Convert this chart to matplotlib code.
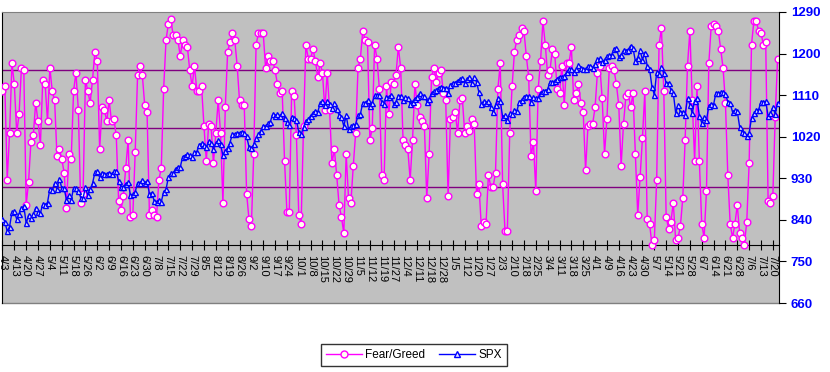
import pandas as pd
import matplotlib.pyplot as plt
from matplotlib.lines import Line2D

plt.rcParams['font.family'] = ['Liberation Sans', 'DejaVu Sans']

# trading days 4/3/2009 - 7/22/2010
holidays = ['2009-04-10', '2009-05-25', '2009-07-03', '2009-09-07', '2009-11-26',
            '2009-12-25', '2010-01-01', '2010-01-18', '2010-02-15', '2010-04-02',
            '2010-05-31', '2010-07-05']
dates = pd.bdate_range('2009-04-03', '2010-07-22', freq='C', holidays=holidays)

fear_greed = [
    66, 68, 28, 48, 78, 69, 48, 56, 76, 75,
    17, 27, 44, 47, 61, 53, 43, 71, 69, 53,
    76, 66, 62, 38, 41, 37, 31, 16, 39, 37,
    66, 74, 58, 18, 22, 71, 66, 61, 71, 83,
    79, 41, 59, 58, 53, 62, 53, 54, 47, 19,
    15, 21, 33, 45, 12, 13, 40, 73, 77, 73,
    60, 57, 13, 15, 13, 12, 28, 33, 67, 88,
    95, 97, 90, 90, 88, 81, 88, 86, 85, 75,
    68, 77, 66, 66, 68, 51, 36, 52, 51, 35,
    48, 62, 48, 18, 59, 83, 87, 91, 88, 77,
    62, 60, 60, 22, 11, 8, 39, 86, 91, 91,
    91, 76, 81, 79, 79, 75, 69, 65, 66, 36,
    14, 14, 66, 64, 47, 13, 9, 51, 86, 80,
    80, 84, 79, 72, 78, 74, 58, 74, 58, 35,
    41, 30, 17, 12, 5, 39, 20, 18, 34, 48,
    76, 80, 92, 88, 87, 45, 50, 86, 80, 67,
    30, 28, 68, 56, 70, 69, 73, 85, 76, 45,
    43, 41, 28, 45, 69, 60, 55, 53, 51, 20,
    39, 72, 76, 70, 74, 75, 65, 62, 21, 54,
    55, 57, 48, 62, 63, 48, 51, 49, 54, 52,
    22, 26, 8, 10, 9, 30, 25, 25, 31, 67,
    78, 26, 6, 6, 48, 68, 83, 88, 90, 93,
    92, 81, 72, 38, 44, 23, 67, 79, 96, 86,
    73, 75, 84, 82, 67, 65, 77, 60, 78, 78,
    85, 62, 65, 69, 61, 57, 32, 51, 52, 52,
    59, 74, 77, 63, 39, 54, 76, 77, 75, 69,
    60, 34, 52, 64, 65, 59, 65, 39, 13, 29,
    46, 66, 11, 9, 0, 2, 28, 86, 93, 66,
    12, 7, 10, 18, 2, 3, 8, 20, 45, 77,
    92, 62, 36, 68, 36, 9, 3, 23, 78, 94,
    95, 94, 92, 84, 76, 61, 30, 9, 3, 9,
    17, 5, 3, 0, 10, 35, 86, 96, 96, 92,
    91, 86, 87, 19, 18, 21, 55, 80,
]

spx = [
    # Apr 2009
    842.5, 835.5, 815.6, 825.2, 856.6, 858.7, 841.5, 852.1, 865.3, 869.6,
    832.4, 850.1, 843.6, 851.9, 866.2, 857.5, 855.2, 873.6, 872.8,
    # May
    877.5, 907.2, 903.8, 919.5, 907.4, 929.2, 909.2, 908.4, 883.9, 893.1,
    882.9, 909.7, 908.1, 903.5, 888.3, 887.0, 910.3, 893.1, 906.8, 919.1,
    # Jun
    942.9, 944.7, 931.8, 942.5, 940.1, 939.1, 942.4, 939.2, 944.9, 946.2,
    923.7, 912.0, 910.7, 918.4, 921.2, 893.0, 895.1, 900.9, 920.3, 918.9,
    927.2, 919.3,
    # Jul
    923.3, 896.4, 898.7, 881.0, 879.6, 882.7, 879.1, 901.1, 905.8, 932.7,
    940.7, 940.4, 951.1, 954.6, 954.1, 976.3, 979.3, 982.2, 979.6, 975.2,
    986.8, 987.5,
    # Aug
    1002.6, 1005.7, 1002.7, 997.1, 1010.5, 1007.1, 994.4, 1005.8, 1012.7, 1004.1,
    979.7, 989.7, 996.5, 1007.4, 1026.1, 1025.6, 1028.0, 1028.1, 1031.0, 1028.9,
    1020.6,
    # Sep
    998.0, 994.8, 1003.2, 1016.4, 1025.4, 1033.4, 1044.1, 1042.7, 1049.3, 1052.6,
    1068.8, 1065.5, 1068.3, 1064.7, 1071.7, 1060.9, 1050.8, 1044.4, 1063.0, 1060.6,
    1057.1,
    # Oct
    1029.9, 1025.2, 1040.5, 1054.7, 1057.6, 1065.5, 1071.5, 1076.2, 1073.2, 1092.0,
    1096.6, 1087.7, 1097.9, 1091.1, 1081.4, 1092.9, 1079.6, 1067.0, 1063.4, 1042.6,
    1066.1, 1036.2,
    # Nov
    1042.9, 1045.4, 1046.5, 1066.6, 1069.3, 1093.1, 1093.0, 1098.5, 1087.2, 1093.5,
    1109.3, 1110.3, 1109.8, 1094.9, 1091.4, 1106.2, 1105.7, 1110.6, 1091.5, 1095.6,
    # Dec
    1108.9, 1109.2, 1099.9, 1106.0, 1103.3, 1091.9, 1095.9, 1102.4, 1106.4, 1114.1,
    1107.9, 1109.2, 1096.1, 1102.5, 1114.1, 1118.0, 1120.6, 1126.5, 1127.8, 1126.2,
    1126.4, 1115.1,
    # Jan 2010
    1133.0, 1136.5, 1137.1, 1141.7, 1145.0, 1147.0, 1136.2, 1145.7, 1148.5, 1136.0,
    1150.2, 1138.0, 1116.5, 1091.8, 1096.8, 1092.2, 1097.5, 1084.5, 1073.9,
    # Feb
    1089.2, 1103.3, 1097.3, 1063.1, 1066.2, 1056.7, 1070.5, 1068.1, 1078.5, 1075.5,
    1094.9, 1099.5, 1106.8, 1109.2, 1108.0, 1094.6, 1105.2, 1102.9, 1104.5,
    # Mar
    1115.7, 1118.3, 1118.8, 1123.0, 1138.7, 1138.5, 1140.4, 1145.6, 1150.2, 1150.0,
    1150.5, 1159.5, 1166.2, 1165.8, 1159.9, 1165.8, 1174.2, 1167.7, 1165.7, 1166.6,
    1173.2, 1173.3, 1169.4,
    # Apr
    1178.1, 1187.4, 1189.4, 1182.4, 1186.4, 1194.4, 1196.5, 1197.3, 1210.7, 1211.7,
    1192.1, 1197.5, 1207.2, 1205.9, 1208.7, 1217.3, 1212.1, 1183.7, 1191.4, 1206.8,
    1186.7,
    # May
    1202.3, 1173.6, 1165.9, 1128.2, 1110.9, 1159.7, 1155.8, 1171.7, 1157.4, 1135.7,
    1136.9, 1120.8, 1115.1, 1071.6, 1087.7, 1073.7, 1074.0, 1068.0, 1103.1, 1089.4,
    # Jun
    1070.7, 1098.4, 1102.8, 1064.9, 1050.5, 1062.0, 1055.7, 1086.8, 1091.6, 1089.6,
    1115.2, 1114.6, 1116.0, 1117.5, 1113.2, 1095.3, 1092.0, 1073.7, 1076.8, 1074.6,
    1041.2, 1030.7,
    # Jul
    1027.4, 1022.6, 1028.1, 1060.3, 1070.3, 1078.0, 1078.8, 1095.3, 1095.2, 1096.5,
    1064.9, 1071.3, 1083.5, 1069.6, 1093.7,
]

x = list(range(len(dates)))
tick_pos = x[::5]
tick_labels = [f"{d.month}/{d.day}" for d in dates[::5]]

fig = plt.figure(figsize=(8.3, 3.72), dpi=100)
ax = fig.add_axes([2 / 830, 69 / 372, 777 / 830, 291 / 372])
ax.set_facecolor('#C0C0C0')
ax.set_xlim(-0.2, len(x) - 0.4)
ax.set_ylim(-25, 100)

for v in (25, 50, 75):
    ax.axhline(v, color='#800080', lw=1, zorder=1)

ax.plot(x, fear_greed, color='#FF00FF', lw=1, marker='o', ms=4.8,
        mfc='#FFFFEE', mec='#FF00FF', mew=1, zorder=3)

ax.spines['bottom'].set_position(('data', 0))
ax.spines['bottom'].set_color('black')
ax.spines['left'].set_color('black')
ax.spines['top'].set_color('#808080')
ax.spines['right'].set_visible(False)
ax.plot([0, 1], [0, 0], transform=ax.transAxes, color='#808080', lw=1, clip_on=False)

ax.set_xticks(tick_pos)
ax.set_xticklabels(tick_labels, rotation=270, fontsize=8)
ax.tick_params(axis='x', direction='inout', length=7, pad=4)
ax.set_yticks([])

ax2 = ax.twinx()
ax2.set_ylim(660, 1290)
ax2.set_yticks(range(660, 1291, 90))
ax2.tick_params(axis='y', direction='out', length=5, labelcolor='#0000FF', labelsize=9.5)
for lab in ax2.get_yticklabels():
    lab.set_fontweight('bold')
for s in ('top', 'left', 'bottom'):
    ax2.spines[s].set_visible(False)
ax2.spines['right'].set_color('black')

ax2.plot(x, spx, color='#0000FF', lw=1, marker='^', ms=3.6,
         mfc='#E6E6FF', mec='#0000FF', mew=1, zorder=4)

handles = [
    Line2D([], [], color='#FF00FF', lw=1, marker='o', ms=5, mfc='#FFFFEE', mec='#FF00FF'),
    Line2D([], [], color='#0000FF', lw=1, marker='^', ms=4, mfc='#E6E6FF', mec='#0000FF'),
]
leg = fig.legend(handles, ['Fear/Greed', 'SPX'], loc='center',
                 bbox_to_anchor=(414 / 830, 1 - 355 / 372), ncol=2, fontsize=8.5,
                 frameon=True, fancybox=False, edgecolor='black', handlelength=3,
                 columnspacing=1.2, borderpad=0.4, handletextpad=0.3)
leg.get_frame().set_linewidth(1)

fig.savefig('out.png', dpi=100)
